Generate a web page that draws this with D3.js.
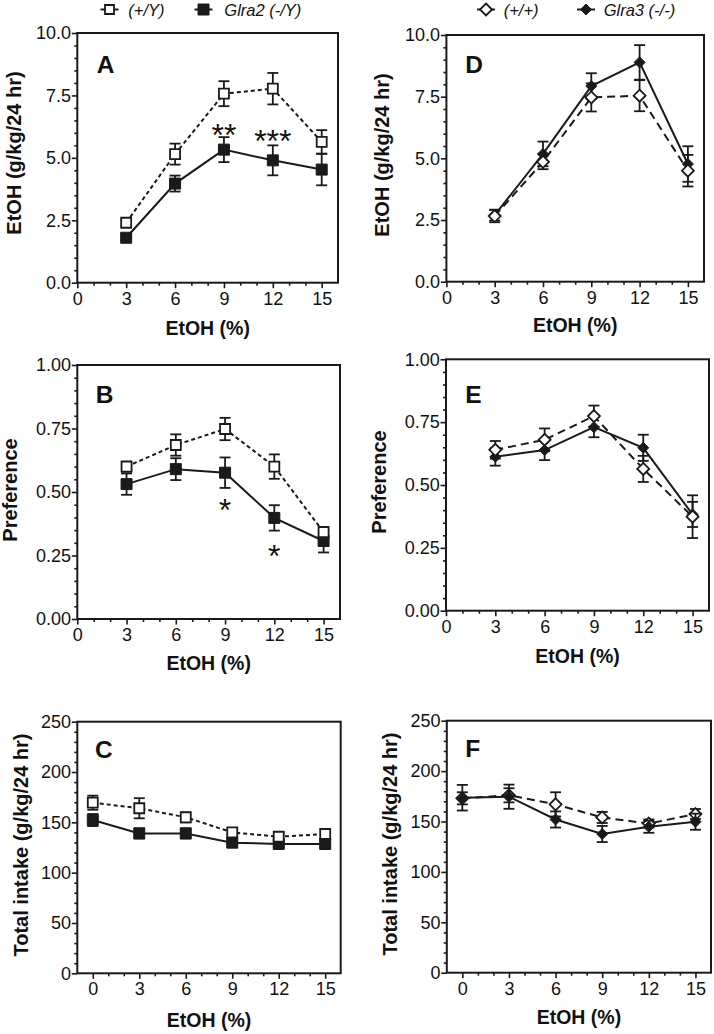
<!DOCTYPE html>
<html><head><meta charset="utf-8">
<script src="https://cdn.jsdelivr.net/npm/d3@7"></script>
<style>
body{margin:0;background:#fff}
svg{display:block}
text{font-family:"Liberation Sans",Arial,Helvetica,sans-serif;fill:#111}
</style>
</head><body>
<svg id="c" width="714" height="1034"></svg>
<script>
// ---------- data ----------
const concEtOH  = [3, 6, 9, 12, 15];
const concTotal = [0, 3, 6, 9, 12, 15];
const xTicks = [0, 3, 6, 9, 12, 15];
const yTicksEtOH = [0, 2.5, 5, 7.5, 10];
const yTicksPref = [0, 0.25, 0.5, 0.75, 1];
const yTicksTotal = [0, 50, 100, 150, 200, 250];

const legendLeft  = ["(+/Y)", "Glra2 (-/Y)"];
const legendRight = ["(+/+)", "Glra3 (-/-)"];

// Panel A: EtOH intake, Glra2
const A_wt    = [2.40, 5.15, 7.57, 7.77, 5.64];
const A_wtSem = [0.12, 0.42, 0.50, 0.63, 0.47];
const A_ko    = [1.80, 3.97, 5.33, 4.90, 4.53];
const A_koSem = [0.10, 0.32, 0.50, 0.60, 0.63];
const A_stars = [{x: 9, y: 6.18, t: "**"}, {x: 12, y: 5.97, t: "***"}];

// Panel B: preference, Glra2
const B_wt    = [0.600, 0.685, 0.748, 0.600, 0.342];
const B_wtSem = [0.020, 0.042, 0.044, 0.048, 0.020];
const B_ko    = [0.531, 0.590, 0.576, 0.398, 0.307];
const B_koSem = [0.042, 0.043, 0.060, 0.050, 0.045];
const B_stars = [{x: 9, y: 0.455, t: "*"}, {x: 12, y: 0.277, t: "*"}];

// Panel C: total intake, Glra2
const C_wt    = [169.5, 164, 155, 140, 135.7, 138.4];
const C_wtSem = [7, 10, 5, 3, 3, 4];
const C_ko    = [152.3, 139, 139, 129.8, 128.5, 128.5];
const C_koSem = [6, 5, 5, 3, 3, 3];

// Panel D: EtOH intake, Glra3
const D_wt    = [2.66, 4.86, 7.47, 7.54, 4.50];
const D_wtSem = [0.25, 0.30, 0.57, 0.63, 0.64];
const D_ko    = [2.70, 5.18, 7.93, 8.89, 4.77];
const D_koSem = [0.22, 0.50, 0.52, 0.70, 0.72];

// Panel E: preference, Glra3
const E_wt    = [0.640, 0.680, 0.774, 0.564, 0.374];
const E_wtSem = [0.035, 0.045, 0.042, 0.052, 0.085];
const E_ko    = [0.612, 0.639, 0.730, 0.648, 0.383];
const E_koSem = [0.035, 0.040, 0.040, 0.052, 0.050];

// Panel F: total intake, Glra3
const F_wt    = [173, 176, 167, 154, 148, 157.4];
const F_wtSem = [6, 7, 12, 5.5, 4, 5];
const F_ko    = [173.6, 174.6, 152, 137.6, 144.8, 149.8];
const F_koSem = [12.7, 12, 8, 8, 6, 8];

// ---------- layout ----------
const INK = "#1a1a1a";
const panels = [
  {letter:"A", box:[77.3,338,33,282.7], xdom:[0,16], ydom:[0,10], yt:yTicksEtOH, ymin:0.5, fmt:d3.format(".1f"),
   conc:concEtOH, wt:A_wt, wtSem:A_wtSem, ko:A_ko, koSem:A_koSem, shape:"square", dash:"4,3",
   ytitle:"EtOH (g/kg/24 hr)", ytx:20.5, yty:153, xty:334.5, lx:96.7, ly:72.7, stars:A_stars, openTop:true},
  {letter:"B", box:[77.3,340,365,619], xdom:[0,16], ydom:[0,1], yt:yTicksPref, ymin:0.05, fmt:d3.format(".2f"),
   conc:concEtOH, wt:B_wt, wtSem:B_wtSem, ko:B_ko, koSem:B_koSem, shape:"square", dash:"4,3",
   ytitle:"Preference", ytx:17, yty:490, xty:670, lx:95.7, ly:403.3, stars:B_stars, openTop:true},
  {letter:"C", box:[77.3,340.7,721.7,973.3], xdom:[-1,16], ydom:[0,250], yt:yTicksTotal, ymin:10, fmt:d3.format("d"),
   conc:concTotal, wt:C_wt, wtSem:C_wtSem, ko:C_ko, koSem:C_koSem, shape:"square", dash:"4,3",
   ytitle:"Total intake (g/kg/24 hr)", ytx:27.5, yty:845, xty:1027, lx:95, ly:757.7, stars:[], openTop:true},
  {letter:"D", box:[446.4,704,35,281.7], xdom:[0,16], ydom:[0,10], yt:yTicksEtOH, ymin:0.5, fmt:d3.format(".1f"),
   conc:concEtOH, wt:D_wt, wtSem:D_wtSem, ko:D_ko, koSem:D_koSem, shape:"diamond", dash:"8,5",
   ytitle:"EtOH (g/kg/24 hr)", ytx:389, yty:155, xty:332, lx:465.3, ly:72.7, stars:[], openTop:true},
  {letter:"E", box:[446,709,359.3,610.7], xdom:[0,16], ydom:[0,1], yt:yTicksPref, ymin:0.05, fmt:d3.format(".2f"),
   conc:concEtOH, wt:E_wt, wtSem:E_wtSem, ko:E_ko, koSem:E_koSem, shape:"diamond", dash:"8,5",
   ytitle:"Preference", ytx:386, yty:482, xty:663, lx:465.3, ly:403, stars:[], openTop:true},
  {letter:"F", box:[446.8,711,720.7,972.7], xdom:[-1,16], ydom:[0,250], yt:yTicksTotal, ymin:10, fmt:d3.format("d"),
   conc:concTotal, wt:F_wt, wtSem:F_wtSem, ko:F_ko, koSem:F_koSem, shape:"diamond", dash:"8,5",
   ytitle:"Total intake (g/kg/24 hr)", ytx:397, yty:844, xty:1024, lx:465.3, ly:757.3, stars:[], openTop:false}
];

const svg = d3.select("#c");

function markerPath(shape, r){
  if (shape === "square") return `M${-r},${-r}H${r}V${r}H${-r}Z`;
  return `M0,${-r}L${r},0L0,${r}L${-r},0Z`;
}

panels.forEach(p => {
  const [x0,x1,y0,y1] = p.box;
  const x = d3.scaleLinear().domain(p.xdom).range([x0,x1]);
  const y = d3.scaleLinear().domain(p.ydom).range([y1,y0]);
  const g = svg.append("g");

  // minor ticks
  const xMinor = d3.range(Math.ceil(p.xdom[0]), p.xdom[1]+0.001, 1).filter(v => !xTicks.includes(v) && v > p.xdom[0] && v < p.xdom[1]);
  const yMinor = d3.range(p.ydom[0], p.ydom[1]+1e-9, p.ymin).filter(v => !p.yt.some(t => Math.abs(t-v) < 1e-9));
  g.append("g").attr("transform",`translate(0,${y1})`)
    .call(d3.axisBottom(x).tickValues(xMinor).tickSize(3).tickFormat(""))
    .call(a => a.select(".domain").remove());
  g.append("g").attr("transform",`translate(${x0},0)`)
    .call(d3.axisLeft(y).tickValues(yMinor).tickSize(3).tickFormat(""))
    .call(a => a.select(".domain").remove());

  // major ticks
  const xa = g.append("g").attr("transform",`translate(0,${y1})`)
    .call(d3.axisBottom(x).tickValues(xTicks).tickSize(5.5).tickPadding(3.7).tickFormat(d3.format("d")))
    .call(a => a.select(".domain").remove());
  const ya = g.append("g").attr("transform",`translate(${x0},0)`)
    .call(d3.axisLeft(y).tickValues(p.yt).tickSize(5.5).tickPadding(0.8).tickFormat(p.fmt))
    .call(a => a.select(".domain").remove());
  [xa, ya].forEach(a => {
    a.selectAll("text").attr("font-size", 18).attr("fill", INK).style("font-family", '"Liberation Sans",Arial,sans-serif');
  });
  g.selectAll(".tick line").attr("stroke", INK).attr("stroke-width", 1.6);

  // frame
  g.append("rect").attr("x",x0).attr("y",y0).attr("width",x1-x0).attr("height",y1-y0)
    .attr("fill","none").attr("stroke",INK).attr("stroke-width",2);

  // titles
  g.append("text").attr("x",(x0+x1)/2).attr("y",p.xty).attr("text-anchor","middle")
    .attr("font-size",19.5).attr("font-weight","bold").text("EtOH (%)");
  g.append("text").attr("transform",`translate(${p.ytx},${p.yty}) rotate(-90)`).attr("text-anchor","middle")
    .attr("font-size",20).attr("font-weight","bold").text(p.ytitle);
  g.append("text").attr("x",p.lx).attr("y",p.ly).attr("font-size",24.5).attr("font-weight","bold").text(p.letter);

  // series
  const series = [
    {v:p.wt, s:p.wtSem, open:true},
    {v:p.ko, s:p.koSem, open:false}
  ];
  const order = p.openTop ? [series[1], series[0]] : [series[0], series[1]];
  const line = d3.line().x(d => x(d.c)).y(d => y(d.m));

  order.forEach(s => {
    const pts = p.conc.map((c,i) => ({c, m:s.v[i], e:s.s[i]}));
    g.append("path").datum(pts).attr("d", line).attr("fill","none")
      .attr("stroke", INK).attr("stroke-width", 2)
      .attr("stroke-dasharray", s.open ? p.dash : null);
  });
  order.forEach(s => {
    const pts = p.conc.map((c,i) => ({c, m:s.v[i], e:s.s[i]}));
    const eb = g.append("g").attr("stroke", INK).attr("stroke-width", 1.8);
    pts.forEach(d => {
      const xc = x(d.c), yt = y(d.m + d.e), yb = y(d.m - d.e);
      eb.append("line").attr("x1",xc).attr("x2",xc).attr("y1",yt).attr("y2",yb);
      eb.append("line").attr("x1",xc-5.5).attr("x2",xc+5.5).attr("y1",yt).attr("y2",yt);
      eb.append("line").attr("x1",xc-5.5).attr("x2",xc+5.5).attr("y1",yb).attr("y2",yb);
    });
    const r = p.shape === "square" ? (s.open ? 5 : 5.5) : (s.open ? 6 : 5.5);
    g.append("g").selectAll("path").data(pts).join("path")
      .attr("transform", d => `translate(${x(d.c)},${y(d.m)})`)
      .attr("d", markerPath(p.shape, r))
      .attr("fill", s.open ? "#fff" : INK)
      .attr("stroke", INK).attr("stroke-width", s.open ? 1.8 : 1);
  });

  // significance stars
  g.selectAll("text.star").data(p.stars).join("text").attr("class","star")
    .attr("x", d => x(d.x)).attr("y", d => y(d.y) + 0.56*32)
    .attr("text-anchor","middle").attr("font-size",32).text(d => d.t);
});

// ---------- legends ----------
function legendItem(cx, cy, shape, open, label, tx){
  const g = svg.append("g");
  g.append("line").attr("x1",cx-9).attr("x2",cx+9).attr("y1",cy).attr("y2",cy)
    .attr("stroke",INK).attr("stroke-width",2);
  const r = shape === "square" ? (open ? 4.5 : 5.5) : (open ? 6 : 5.5);
  g.append("path").attr("transform",`translate(${cx},${cy})`).attr("d", markerPath(shape, r))
    .attr("fill", open ? "#fff" : INK).attr("stroke", INK).attr("stroke-width", open ? 1.8 : 1);
  g.append("text").attr("x",tx).attr("y",cy+6).attr("font-size",16.5).attr("font-style","italic").text(label);
}
legendItem(109.5, 9.5, "square", true,  legendLeft[0], 128.3);
legendItem(203.5, 9.5, "square", false, legendLeft[1], 224.3);
legendItem(486, 9.5, "diamond", true,  legendRight[0], 503.7);
legendItem(586, 9.5, "diamond", false, legendRight[1], 603.7);
</script>
</body></html>
